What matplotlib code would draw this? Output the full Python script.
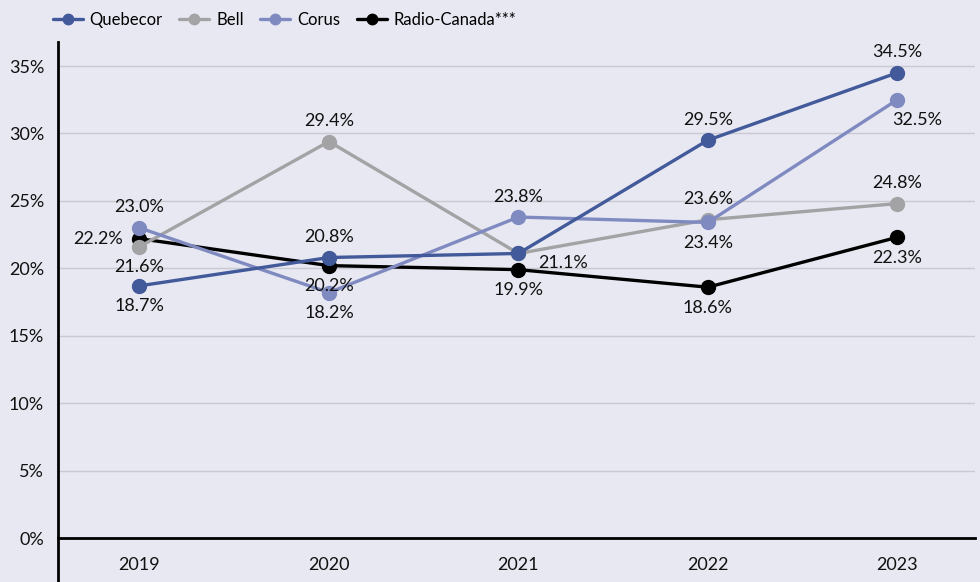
import matplotlib
matplotlib.use("Agg")
import matplotlib.pyplot as plt
from matplotlib.ticker import FuncFormatter

years = ["2019", "2020", "2021", "2022", "2023"]
quebecor = [18.7, 20.8, 21.1, 29.5, 34.5]
bell = [21.6, 29.4, 21.1, 23.6, 24.8]
corus = [23.0, 18.2, 23.8, 23.4, 32.5]
radio_canada = [22.2, 20.2, 19.9, 18.6, 22.3]

names = ["Quebecor", "Bell", "Corus", "Radio-Canada***"]
series = [quebecor, bell, corus, radio_canada]
colors = ["#42599A", "#A3A3A5", "#7F8AC0", "#000000"]

# label placement per series per point: 'a' above, 'b' below, 'l' left, 'r' right, 'n' none
placements = [
    ["b", "a", "r", "a", "a"],
    ["b", "a", "n", "a", "a"],
    ["a", "b", "a", "b", "b"],
    ["l", "b", "b", "b", "b"],
]

bg = "#E8E8F2"
plt.rcParams["font.family"] = ["Lato", "DejaVu Sans"]

fig = plt.figure(figsize=(9.8, 5.82), dpi=100, facecolor=bg)
ax = fig.add_axes([58/980, 0, 917/980, 1 - 42/582])
ax.set_facecolor(bg)

x = list(range(len(years)))
handles = []
zorders = [4, 3.5, 3.8, 3]
for s, name, c, z in zip(series, names, colors, zorders):
    h, = ax.plot(x, s, color=c, lw=2.4, marker="o", markersize=10, label=name,
                 solid_capstyle="round", zorder=z)
    handles.append(h)

offsets = {"a": (0, 9, "center", "bottom"), "b": (0, -9, "center", "top"),
           "l": (-12, 0, "right", "center"), "r": (14, -7, "left", "center")}
for s, pl in zip(series, placements):
    for xi, (v, p) in enumerate(zip(s, pl)):
        if p == "n":
            continue
        dx, dy, ha, va = offsets[p]
        if s is corus and xi == 4:
            dx = 14
        ax.annotate(f"{v:.1f}%", (xi, v), xytext=(dx, dy), textcoords="offset points",
                    ha=ha, va=va, fontsize=13, color="#111111", zorder=5)

ax.set_xlim(-0.43, 4.41)
ax.set_ylim(-3.26, 36.78)
ax.set_yticks([0, 5, 10, 15, 20, 25, 30, 35])
ax.yaxis.set_major_formatter(FuncFormatter(lambda v, p: f"{v:.0f}%"))
ax.grid(axis="y", color="#C9C9D2", lw=1)
ax.set_axisbelow(True)
ax.set_xticks(x)
ax.set_xticklabels(years)
ax.tick_params(axis="x", length=0, pad=14, labelsize=13, colors="#111111")
ax.tick_params(axis="y", length=0, pad=10, labelsize=13, colors="#111111")
for sp in ["top", "right"]:
    ax.spines[sp].set_visible(False)
ax.spines["bottom"].set_position(("data", 0))
ax.spines["bottom"].set_linewidth(2)
ax.spines["left"].set_linewidth(2)

fig.legend(handles=handles, loc="upper left", bbox_to_anchor=(38/980, 1 + 3/582), ncol=4,
           frameon=False, fontsize=12, handlelength=1.8, columnspacing=1.0,
           handletextpad=0.4, markerscale=0.75)

fig.savefig("out.png", dpi=100, facecolor=bg)
